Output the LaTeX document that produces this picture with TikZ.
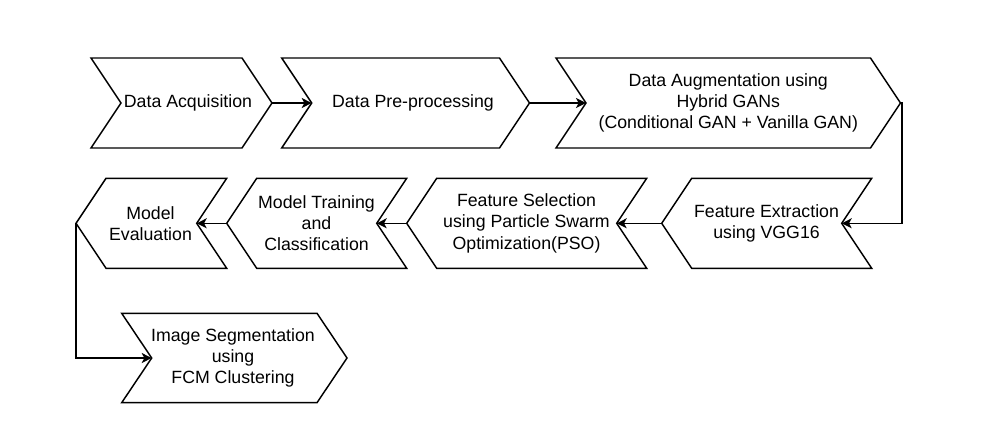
\documentclass[tikz,border=0pt]{standalone}
\usepackage{fontspec}
\setmainfont{Liberation Sans}
\usetikzlibrary{arrows.meta}
\tikzset{
  box/.style={draw=black, line width=1.1pt, fill=white, line join=miter},
  lbl/.style={align=center, inner sep=0pt, font=\fontsize{13.3pt}{15.9pt}\selectfont},
  conn/.style={draw=black, line width=1.1pt, -{Stealth[length=7.5pt,width=7.5pt,inset=2pt]}},
}
% right-pointing chevron: name, xl, xr, yt, yb, text x, text
\newcommand\rchev[7]{%
  \draw[box] (#2,#4) -- (#3,#4) -- ({#3+30},{(#4+#5)/2}) -- (#3,#5) -- (#2,#5) -- ({#2+30},{(#4+#5)/2}) -- cycle;
  \coordinate (#1-in) at ({#2+30},{(#4+#5)/2});
  \coordinate (#1-out) at ({#3+30},{(#4+#5)/2});
  \node[lbl] (#1) at (#6,{(#4+#5)/2}) {#7};}
% left-pointing chevron: name, xl (tip), xr (right top), yt, yb, text x, text
\newcommand\lchev[7]{%
  \draw[box] ({#2+30},#4) -- (#3,#4) -- ({#3-30},{(#4+#5)/2}) -- (#3,#5) -- ({#2+30},#5) -- (#2,{(#4+#5)/2}) -- cycle;
  \coordinate (#1-in) at ({#3-30},{(#4+#5)/2});
  \coordinate (#1-out) at (#2,{(#4+#5)/2});
  \node[lbl] (#1) at (#6,{(#4+#5)/2}) {#7};}
\begin{document}
\begin{tikzpicture}[x=0.75pt,y=-0.75pt]
\useasboundingbox[fill=white] (0,0) rectangle (994,439);
% row 1
\rchev{acq}{91}{242}{58}{148}{188}{Data Acquisition}
\rchev{pre}{281.7}{499.5}{58}{148}{413}{Data Pre-processing}
\rchev{aug}{556}{870.5}{58}{148}{728.3}{Data Augmentation using\\Hybrid GANs\\(Conditional GAN + Vanilla GAN)}
% row 2
\lchev{fex}{661.7}{871.7}{178.3}{268.3}{766.5}{Feature Extraction\\using VGG16}
\lchev{fsel}{406.7}{646.7}{178.3}{268.3}{526.5}{Feature Selection\\using Particle Swarm\\Optimization(PSO)}
\lchev{train}{226.7}{406.7}{178.3}{268.3}{316.5}{Model Training\\and\\Classification}
\lchev{eval}{76}{226.7}{178.3}{268.3}{150.5}{Model\\Evaluation}
% row 3
\rchev{seg}{121.7}{317}{313.3}{402.7}{233}{Image Segmentation\\using\\ FCM Clustering}
% connectors
\draw[conn] (acq-out) -- (pre-in);
\draw[conn] (pre-out) -- (aug-in);
\draw[conn] (aug-out) -- ++(1.5,0) |- (fex-in);
\draw[conn] (fex-out) -- (fsel-in);
\draw[conn] (fsel-out) -- (train-in);
\draw[conn] (train-out) -- (eval-in);
\draw[conn] (eval-out) |- (seg-in);
\end{tikzpicture}
\end{document}
